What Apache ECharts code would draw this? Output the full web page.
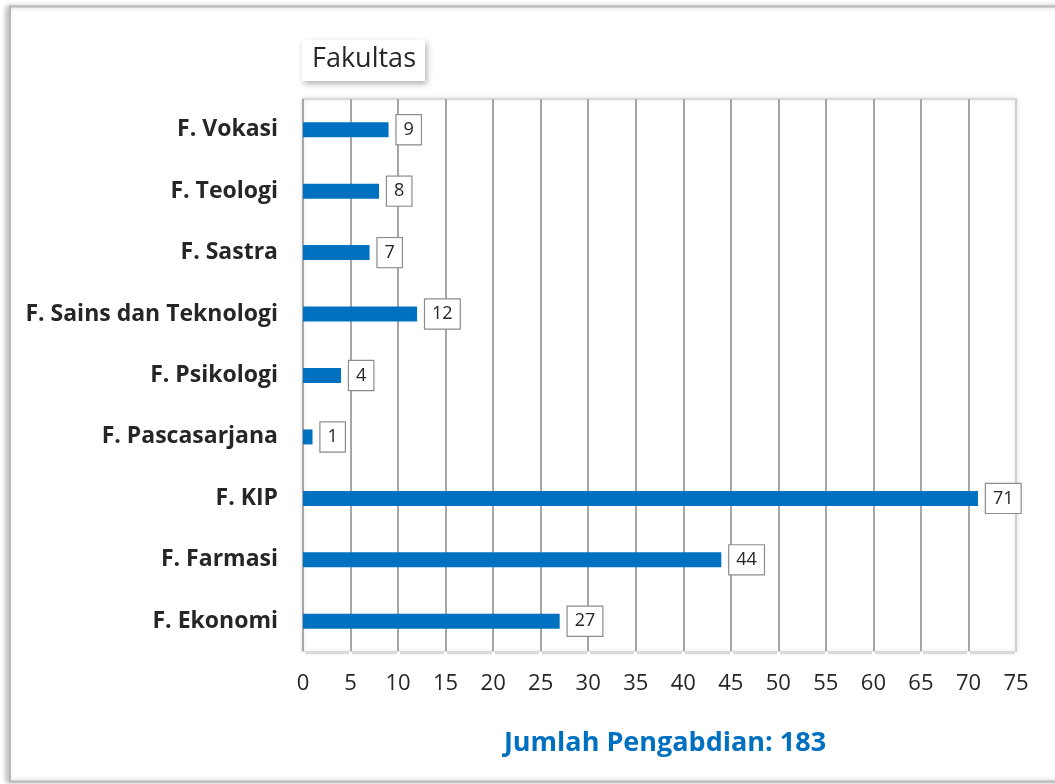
<!DOCTYPE html>
<html>
<head>
<meta charset="utf-8">
<script src="https://cdn.jsdelivr.net/npm/echarts@6/dist/echarts.min.js"></script>
<style>
  html, body { margin: 0; padding: 0; background: #fff; }
  #chart { width: 1055px; height: 784px; }
</style>
</head>
<body>
<div id="chart"></div>
<script>
// Faculty names, bottom to top on the category axis
const categories = [
  'F. Ekonomi', 'F. Farmasi', 'F. KIP', 'F. Pascasarjana', 'F. Psikologi',
  'F. Sains dan Teknologi', 'F. Sastra', 'F. Teologi', 'F. Vokasi'
];
// Number of community-service activities per faculty
const counts = [27, 44, 71, 1, 4, 12, 7, 8, 9];
// Value-axis tick values
const ticks = [0, 5, 10, 15, 20, 25, 30, 35, 40, 45, 50, 55, 60, 65, 70, 75];

const titleText = 'Fakultas';
const totalText = 'Jumlah Pengabdian: ' + counts.reduce((a, b) => a + b, 0);

const FONT = '"Open Sans", "Noto Sans", sans-serif';

// vertical grid lines: last one (axis max) is lighter, like the plot frame
const gridColors = ticks.map((t, i) => i === ticks.length - 1 ? '#d0d0d0' : '#a6a6a6');

const chart = echarts.init(document.getElementById('chart'), null, { renderer: 'canvas' });

chart.setOption({
  animation: false,
  backgroundColor: '#fff',
  graphic: [
    {
      type: 'rect',
      z: -10,
      shape: { x: 10, y: 6.5, width: 1100, height: 775 },
      style: {
        fill: '#fff',
        stroke: '#b8b8b8',
        lineWidth: 2,
        shadowBlur: 5,
        shadowOffsetX: -3,
        shadowOffsetY: 0,
        shadowColor: 'rgba(0,0,0,0.25)'
      }
    },
    {
      type: 'text',
      x: 665,
      y: 743,
      style: {
        text: totalText,
        font: 'bold 27px ' + FONT,
        fill: '#0070C0',
        textAlign: 'center',
        textVerticalAlign: 'middle'
      }
    }
  ],
  title: {
    text: titleText,
    left: 302,
    top: 40,
    padding: [6, 9, 8, 10],
    backgroundColor: '#fff',
    shadowBlur: 6,
    shadowOffsetX: 2,
    shadowOffsetY: 3,
    shadowColor: 'rgba(0,0,0,0.3)',
    textStyle: {
      fontFamily: FONT,
      fontSize: 27,
      fontWeight: 'normal',
      color: '#262626'
    }
  },
  grid: {
    left: 303,
    right: 39,
    top: 99,
    bottom: 132,
    show: true,
    backgroundColor: '#fff',
    borderColor: '#d9d9d9',
    borderWidth: 2,
    shadowBlur: 4,
    shadowColor: 'rgba(0,0,0,0.12)',
    containLabel: false
  },
  xAxis: {
    type: 'value',
    min: 0,
    max: 75,
    interval: 5,
    axisLine: { show: true, lineStyle: { color: '#d9d9d9', width: 3 } },
    axisTick: { show: true, length: 4, lineStyle: { color: '#fff', width: 3 } },
    axisLabel: {
      margin: 21,
      fontFamily: FONT,
      fontSize: 22,
      color: '#262626'
    },
    splitLine: { show: true, lineStyle: { color: gridColors, width: 2 } }
  },
  yAxis: {
    type: 'category',
    data: categories,
    axisLine: { show: false },
    axisTick: { show: false },
    axisLabel: {
      margin: 25,
      fontFamily: FONT,
      fontSize: 23,
      fontWeight: 'bold',
      color: '#262626'
    },
    splitLine: { show: false }
  },
  series: [{
    type: 'bar',
    data: counts,
    barWidth: 15,
    itemStyle: { color: '#0070C0' },
    label: {
      show: true,
      position: 'right',
      distance: 8,
      fontFamily: FONT,
      fontSize: 18,
      color: '#262626',
      backgroundColor: '#fff',
      borderColor: '#8c8c8c',
      borderWidth: 1.2,
      padding: [6, 7, 5, 7]
    }
  }]
});
</script>
</body>
</html>
